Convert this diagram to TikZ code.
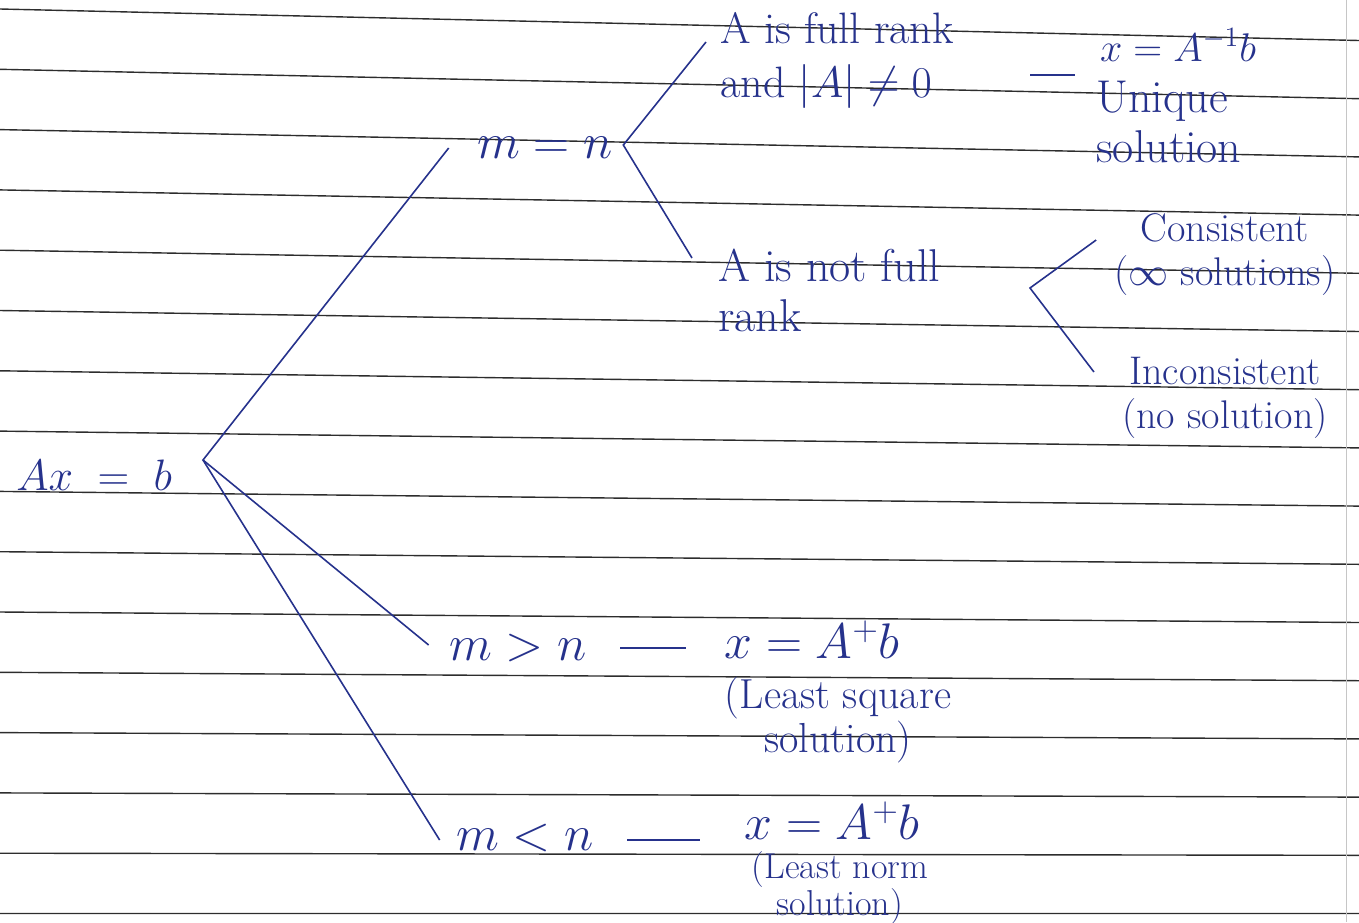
\RequirePackage{fix-cm}
\documentclass[tikz,border=0pt]{standalone}
\usepackage{amsmath}
\usepackage{amssymb}
\usepackage{xcolor}
\usepackage{tikz}
\definecolor{ink}{RGB}{38,50,140}
\definecolor{ruling}{RGB}{45,45,45}

\begin{document}
\begin{tikzpicture}[x=0.5pt, y=-0.5pt,
      every node/.style={text=ink, inner sep=4pt},
      big/.style={font=\fontsize{25}{28}\selectfont},
      txt/.style={font=\fontsize{23}{25}\selectfont, align=left},
      note/.style={font=\fontsize{20}{22}\selectfont, align=center},
      br/.style={draw=ink, line width=0.8pt}]
    \useasboundingbox (0,0) rectangle (1359,922);
    % ruled paper
    \foreach \i in {0,...,15}
      \draw[ruling, line width=0.7pt] (0,{9+60.3*\i}) -- (1359,{40.5+58.2*\i});
    \draw[gray!45, line width=0.5pt] (1346,0) -- (1346,922);

    \node[anchor=west, font=\fontsize{22}{26}\selectfont] (root) at (8,475) {$Ax \;=\; b$};
    \node[big] (eq) at (545,148) {$m = n$};
    \node[txt, anchor=west, font=\fontsize{22}{27}\selectfont] (full) at (712,60) {A is full rank\\and $|A| \neq 0$};
    \node[font=\fontsize{20}{24}\selectfont] (inv) at (1178,45) {$x = A^{-1}b$};
    \node[txt, anchor=west] (uniq) at (1088,122) {Unique\\solution};
    \node[txt, anchor=west] (notfull) at (710,290) {A is not full\\rank};
    \node[note] (cons) at (1225,255) {Consistent\\($\infty$ solutions)};
    \node[note] (incons) at (1225,398) {Inconsistent\\(no solution)};
    \node[big] (gt) at (518,648) {$m > n$};
    \node[big] (gtx) at (812,640) {$x = A^{+}b$};
    \node[align=center, font=\fontsize{21}{20}\selectfont] (gtn) at (838,720) {(Least square\\solution)};
    \node[big] (lt) at (525,838) {$m < n$};
    \node[big] (ltx) at (832,821) {$x = A^{+}b$};
    \node[align=center, font=\fontsize{18}{15}\selectfont] (ltn) at (840,888) {(Least norm\\solution)};

    \coordinate (fork) at (203,460);
    \coordinate (split) at (1030,288);
    \coordinate (d1a) at (1030,75);
    \coordinate (d1b) at (1075,75);

    % branches
    \draw[br] ([shift={(-20,0)}]eq.west) -- (fork) -- ([shift={(-12,-3)}]gt.west);
    \draw[br] (fork) -- ([shift={(-8,2)}]lt.west);
    \draw[br] ([shift={(-6,-18)}]full.west) -- ([shift={(2,-3)}]eq.east)
              -- ([shift={(-18,-32)}]notfull.west);
    \draw[br] ([shift={(-10,-15)}]cons.west) -- (split) -- ([shift={(-20,-26)}]incons.west);
    % dashes
    \draw[br] ([shift={(25,0)}]gt.east) -- ([shift={(-30,8)}]gtx.west);
    \draw[br] ([shift={(25,2)}]lt.east) -- ([shift={(-36,19)}]ltx.west);
    \draw[br] (d1a) -- (d1b);
\end{tikzpicture}
\end{document}
